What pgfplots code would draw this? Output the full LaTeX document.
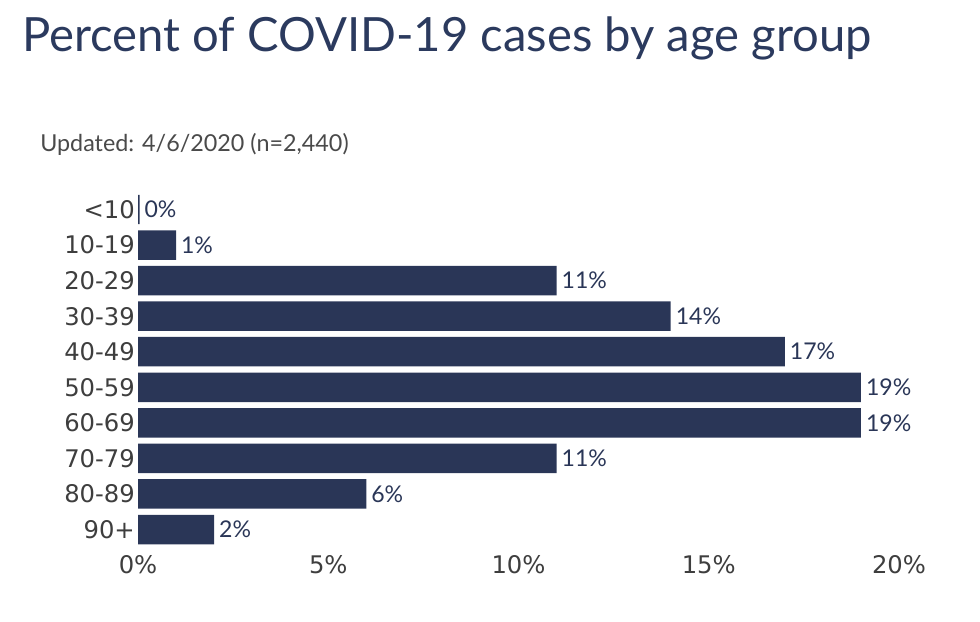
\documentclass[border=0pt]{standalone}
\usepackage{fontspec}
\setmainfont{Lato}
\newfontfamily\dejavu{DejaVu Sans}
\usepackage{pgfplots}
\pgfplotsset{compat=1.18}
\definecolor{navy}{HTML}{2A3657}
\definecolor{titlec}{HTML}{2B3A5E}
\definecolor{ticklab}{HTML}{3E3E3E}
\definecolor{subc}{HTML}{4A4A4A}
\begin{document}
\begin{tikzpicture}[x=0.75pt,y=0.75pt]
\path[use as bounding box] (-138,-73.7) rectangle (842,547.3);
\begin{axis}[
 at={(0,0)}, anchor=south west, scale only axis,
 width=570.75pt, height=266.7pt,
 xbar, bar width=22.1pt, bar shift=0pt,
 xmin=0, xmax=20, ymin=-0.5, ymax=9.5, y dir=reverse,
 axis line style={draw=none}, major tick length=0pt, tick style={draw=none},
 ytick={0,1,2,3,4,5,6,7,8,9},
 yticklabels={<10,10-19,20-29,30-39,40-49,50-59,60-69,70-79,80-89,90+},
 xtick={0,5,10,15,20},
 xticklabels={0\%,5\%,10\%,15\%,20\%},
 tick label style={font=\dejavu\fontsize{18.2}{21}\selectfont, text=ticklab},
 yticklabel style={anchor=east, inner sep=0pt, xshift=-2.2pt},
 xticklabel style={anchor=base, inner sep=0pt, yshift=-19.5pt},
 point meta=x,
 nodes near coords={\pgfmathprintnumber[fixed,precision=0,assume math mode=true]{\pgfplotspointmeta}\%},
 nodes near coords style={font=\fontsize{17.3}{20}\selectfont, text=navy, anchor=west, inner sep=0pt, xshift=3.6pt},
]
\addplot[fill=navy, draw=none] coordinates {(0.04,0) (1,1) (11,2) (14,3) (17,4) (19,5) (19,6) (11,7) (6,8) (2,9)};
\end{axis}
\node[anchor=base west, font=\fontsize{35.4}{40}\selectfont, text=titlec, inner sep=0pt] at (-116,495.3) {Percent of COVID-19 cases by age group};
\node[anchor=base west, font=\fontsize{17.5}{20}\selectfont, text=subc, inner sep=0pt] at (-98,395.3) {Updated: 4/6/2020 (n=2,440)};
\end{tikzpicture}
\end{document}
